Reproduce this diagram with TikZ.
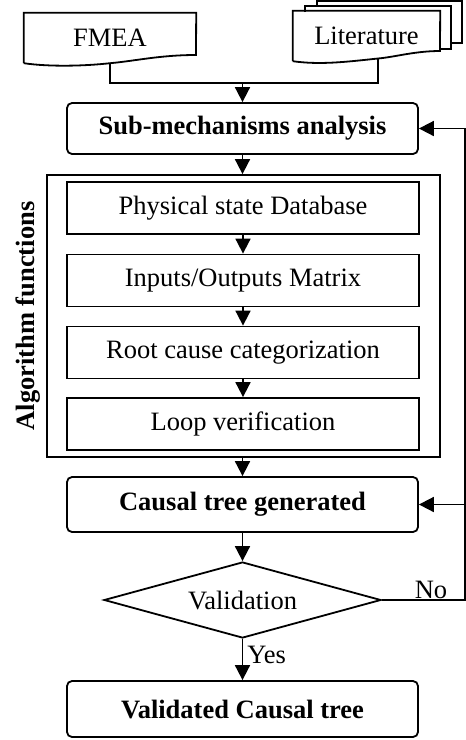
\documentclass[tikz,border=0pt]{standalone}
\usepackage{fontspec}
\setmainfont{Liberation Serif}
\usetikzlibrary{shapes.geometric,arrows.meta}

\tikzset{
  txt/.style={font=\fontsize{26.5}{30}\selectfont, inner sep=0pt},
  boldtxt/.style={font=\fontsize{26.5}{30}\selectfont\bfseries},
  edge/.style={line width=1.8pt},
  flow/.style={edge, -{Triangle[length=15pt,width=15pt]}},
  roundbox/.style={txt, draw, edge, rounded corners=5pt, minimum width=351pt},
  stepbox/.style={txt, draw, edge, minimum width=352pt, minimum height=52pt},
  decision/.style={txt, draw, edge, diamond, aspect=3.64, minimum width=277pt, minimum height=76pt},
  docbox/.style={txt, minimum height=50pt},
}

\begin{document}
\begin{tikzpicture}[x=1pt,y=-1pt]
\useasboundingbox (0,0) rectangle (466,740);

% input documents
\node[docbox, minimum width=172pt] (fmea) at (110,38) {FMEA};
\draw[edge] (fmea.south west) -- (fmea.north west) -- (fmea.north east) -- (196,55)
  .. controls (160,55) and (135,61) .. (fmea.south)
  .. controls (85,66) and (50,67) .. (fmea.south west);

% stacked copies behind the literature sheet
\draw[edge] (317,6) -- (317,1) -- (462,1) -- (462,43) -- (451,43);
\draw[edge] (305,12) -- (305,6) -- (451,6) -- (451,49) -- (440,49);
\node[docbox, minimum width=147pt] (lit) at (366.5,36) {Literature};
\draw[edge] (lit.south west) -- (lit.north west) -- (lit.north east) -- (440,51)
  .. controls (415,51) and (395,57) .. (378,58.5) coordinate (litfoot)
  .. controls (345,62) and (320,65) .. (lit.south west);

% main chain
\node[roundbox, boldtxt, minimum height=51pt] (sub) at (242.5,128.5) {Sub-mechanisms analysis};

\node[draw, edge, minimum width=393pt, minimum height=282pt, inner sep=0pt] (algo) at (243.5,316) {};
\node[txt, boldtxt, rotate=90] (algolabel) at (28,316) {Algorithm functions};

\node[stepbox] (s1) at (243,208) {Physical state Database};
\node[stepbox] (s2) at (243,280.5) {Inputs/Outputs Matrix};
\node[stepbox] (s3) at (243,352.5) {Root cause categorization};
\node[stepbox] (s4) at (243,424) {Loop verification};

\node[roundbox, boldtxt, minimum height=55pt] (causal) at (242.5,504.5) {Causal tree generated};
\node[decision] (val) at (242.5,600) {Validation};
\node[roundbox, boldtxt, minimum height=56pt] (final) at (242.5,709) {Validated Causal tree};

% connectors
\coordinate (join) at (242.5,83);
\draw[edge] (fmea.south) |- (join);
\draw[edge] (litfoot) |- (join);
\draw[flow] (join) -- (sub.north);
\draw[flow] (sub.south) -- (sub.south |- algo.north);
\draw[flow] (s1) -- (s2);
\draw[flow] (s2) -- (s3);
\draw[flow] (s3) -- (s4);
\draw[flow] (causal.north |- algo.south) -- (causal.north);
\draw[flow] (causal) -- (val);
\draw[flow] (val) -- node[txt, anchor=west, xshift=4pt, pos=0.4] (yes) {Yes} (final);

% rejection loop
\coordinate (rail) at (465,600);
\draw[flow] (val.east) -- (rail) |- (sub.east);
\draw[flow] (rail |- causal.east) -- (causal.east);
\node[txt] (no) at (431,590) {No};
\end{tikzpicture}
\end{document}
